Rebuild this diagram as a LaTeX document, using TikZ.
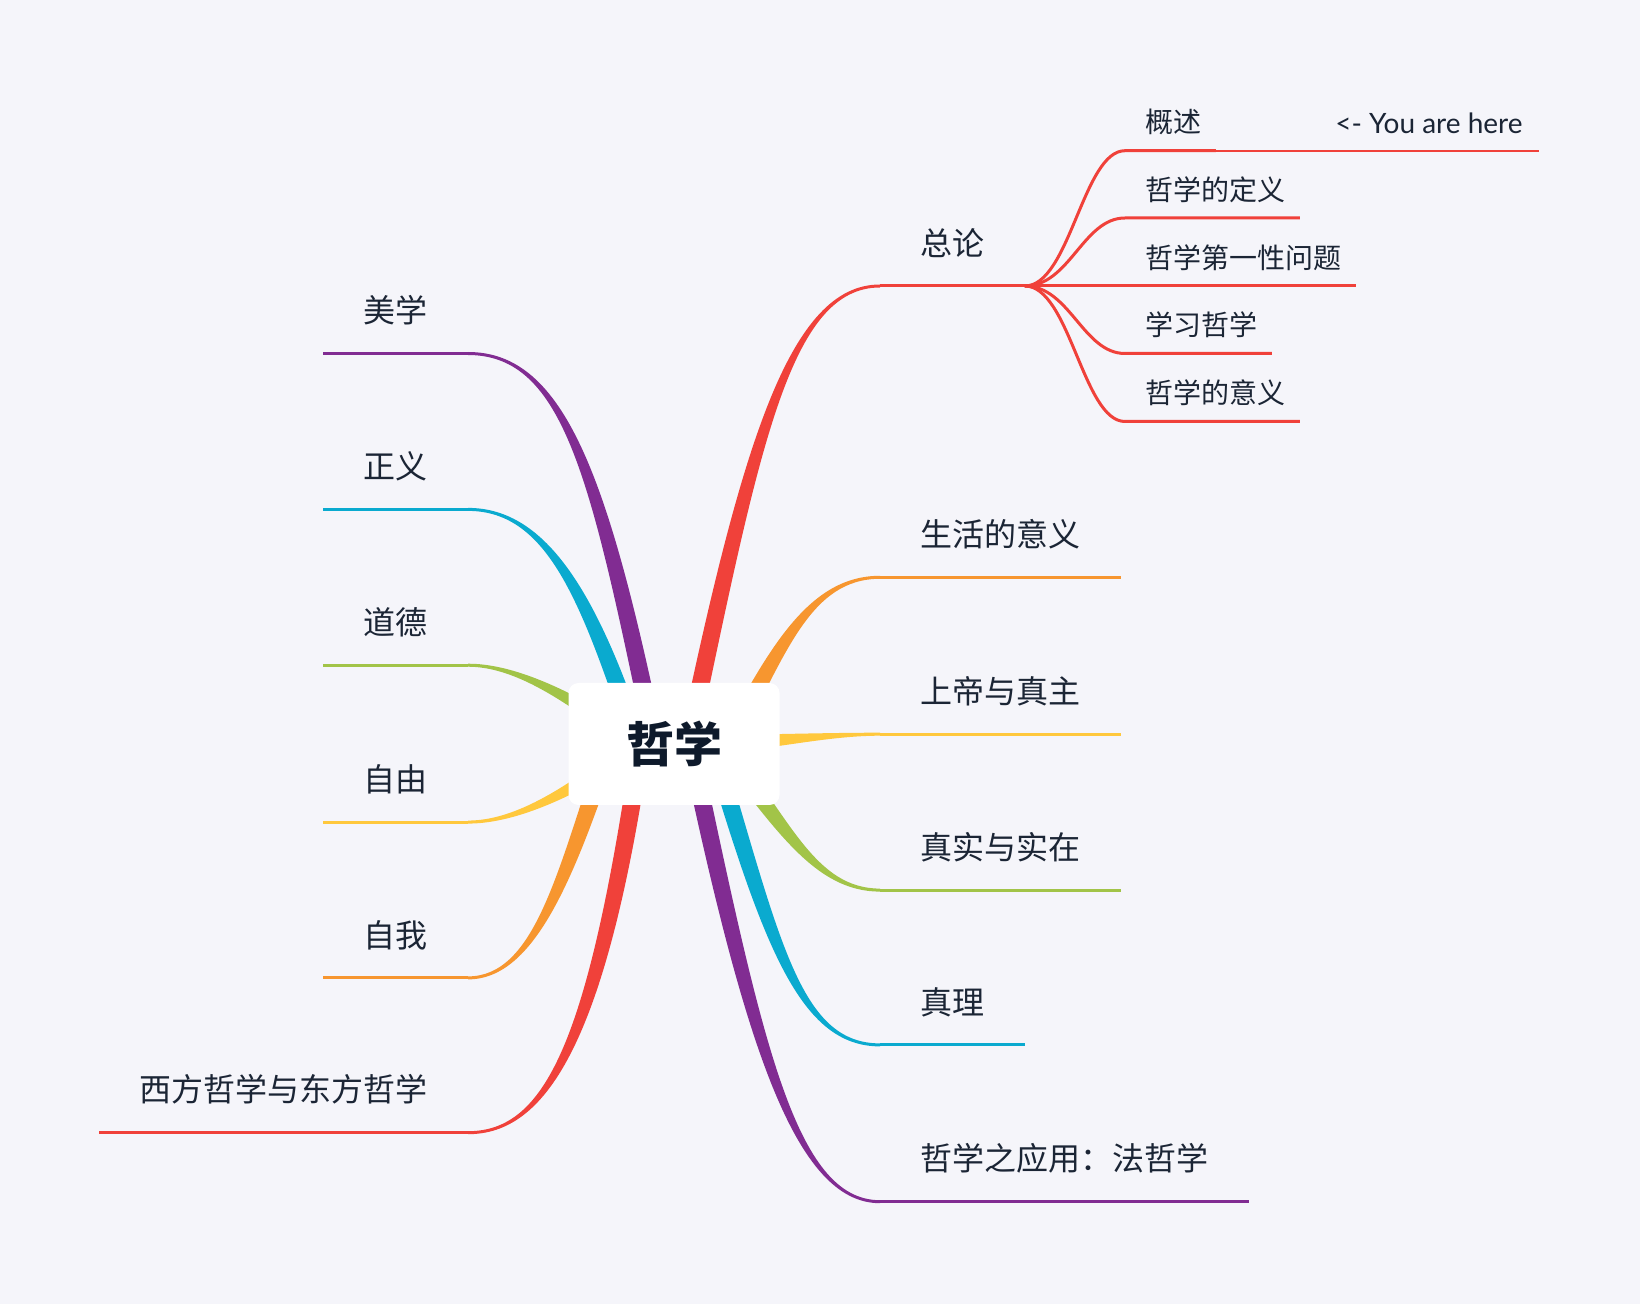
\documentclass[tikz,border=0pt]{standalone}
\usepackage{fontspec}
\setmainfont{Noto Sans CJK SC}
\newfontfamily\latinfont{Lato}
\usetikzlibrary{calc}
\definecolor{bgpaper}{RGB}{245,245,250}
\definecolor{inkblue}{RGB}{27,37,53}
\definecolor{rootink}{RGB}{14,26,43}
\definecolor{mapred}{RGB}{240,65,58}
\definecolor{maporange}{RGB}{247,150,47}
\definecolor{mapyellow}{RGB}{255,200,61}
\definecolor{mapgreen}{RGB}{162,196,72}
\definecolor{mapcyan}{RGB}{10,170,207}
\definecolor{mappurple}{RGB}{129,44,146}

% tapered branch: colour, start shift from hub, first control (from start), second control (from end), end
\newcommand{\limb}[5]{%
  \coordinate (p0) at ($(hub)+(#2)$);
  \coordinate (p1) at ($(p0)+(#3)$);
  \coordinate (p2) at ($(#5)+(#4)$);
  \fill[#1] ($(p0)!4.5pt!90:(p1)$) .. controls ($(p1)!4.5pt!-90:(p0)$) and ($(p2)!0.75pt!90:(#5)$) .. ($(#5)!0.75pt!-90:(p2)$)
    -- ($(#5)!0.75pt!90:(p2)$) .. controls ($(p2)!0.75pt!-90:(#5)$) and ($(p1)!4.5pt!90:(p0)$) .. ($(p0)!4.5pt!-90:(p1)$) -- cycle;
}

\begin{document}
\begin{tikzpicture}[
    x=0.5pt, y=-0.5pt,
    root/.style={fill=white, rounded corners=5pt, minimum width=105.5pt, minimum height=61pt, text=rootink, font=\fontsize{24}{28}\selectfont\bfseries},
    topic/.style={inner xsep=20pt, inner ysep=0pt, text=inkblue, font=\fontsize{16}{19}\selectfont},
    subtopic/.style={inner xsep=7pt, inner ysep=0pt, text=inkblue, font=\fontsize{14}{17}\selectfont},
    uline/.style={line width=1.5pt},
    tailline/.style={line width=1pt}
]

\fill[bgpaper] (0,0) rectangle (1640,1304);

\coordinate (hub) at (674,744);
% right side
\coordinate (e0) at (880,286);
\coordinate (e1) at (880,577.3);
\coordinate (e2) at (880,734.2);
\coordinate (e3) at (880,890.1);
\coordinate (e4) at (880,1044.9);
\coordinate (e5) at (880,1201.7);
% left side
\coordinate (w0) at (468,353.5);
\coordinate (w1) at (468,509.4);
\coordinate (w2) at (468,665.2);
\coordinate (w3) at (468,822.1);
\coordinate (w4) at (468,977.9);
\coordinate (w5) at (468,1132.7);

\limb{mapred}{14,0}{63,-300}{-90,0}{e0}
\limb{maporange}{54,0}{50,-94}{-70,0}{e1}
\limb{mapyellow}{26,0}{60,0}{-60,0}{e2}
\limb{mapgreen}{46,0}{63,80}{-65,0}{e3}
\limb{mapcyan}{38,0}{60,200}{-80,0}{e4}
\limb{mappurple}{16,0}{63,298}{-85,0}{e5}
\limb{mappurple}{-19,0}{-55,-264}{97,0}{w0}
\limb{mapcyan}{-36,0}{-48,-144}{80,0}{w1}
\limb{mapgreen}{-34,0}{-40,-24}{62,0}{w2}
\limb{mapyellow}{-34,0}{-40,26}{62,0}{w3}
\limb{maporange}{-64,0}{-44,130}{67,0}{w4}
\limb{mapred}{-33,0}{-44,300}{77,0}{w5}

\node[root] (root) at (hub) {哲学};

\node[topic, anchor=west] (n0) at ($(e0)+(0,-43)$) {总论};
\node[topic, anchor=west] (n1) at ($(e1)+(0,-43)$) {生活的意义};
\node[topic, anchor=west] (n2) at ($(e2)+(0,-43)$) {上帝与真主};
\node[topic, anchor=west] (n3) at ($(e3)+(0,-43)$) {真实与实在};
\node[topic, anchor=west] (n4) at ($(e4)+(0,-43)$) {真理};
\node[topic, anchor=west] (n5) at ($(e5)+(0,-43)$) {哲学之应用：法哲学};

\node[topic, anchor=east] (m0) at ($(w0)+(0,-43)$) {美学};
\node[topic, anchor=east] (m1) at ($(w1)+(0,-43)$) {正义};
\node[topic, anchor=east] (m2) at ($(w2)+(0,-43)$) {道德};
\node[topic, anchor=east] (m3) at ($(w3)+(0,-43)$) {自由};
\node[topic, anchor=east] (m4) at ($(w4)+(0,-43)$) {自我};
\node[topic, anchor=east] (m5) at ($(w5)+(0,-43)$) {西方哲学与东方哲学};

\coordinate (bp) at (n0.east |- e0);
\draw[uline, mapred] (e0) -- (bp);
\draw[uline, maporange] (e1) -- (e1 -| n1.east);
\draw[uline, mapyellow] (e2) -- (e2 -| n2.east);
\draw[uline, mapgreen] (e3) -- (e3 -| n3.east);
\draw[uline, mapcyan] (e4) -- (e4 -| n4.east);
\draw[uline, mappurple] (e5) -- (e5 -| n5.east);

\draw[uline, mappurple] (w0) -- (w0 -| m0.west);
\draw[uline, mapcyan] (w1) -- (w1 -| m1.west);
\draw[uline, mapgreen] (w2) -- (w2 -| m2.west);
\draw[uline, mapyellow] (w3) -- (w3 -| m3.west);
\draw[uline, maporange] (w4) -- (w4 -| m4.west);
\draw[uline, mapred] (w5) -- (w5 -| m5.west);

% sub topics of 总论
\coordinate (s1) at (1125,150.7);
\coordinate (s2) at (1125,218);
\coordinate (s3) at (1125,286);
\coordinate (s4) at (1125,353.5);
\coordinate (s5) at (1125,421.5);

\node[subtopic, anchor=west] (k1) at ($(s1)+(6,-28.5)$) {概述};
\node[subtopic, anchor=west] (k2) at ($(s2)+(6,-28.5)$) {哲学的定义};
\node[subtopic, anchor=west] (k3) at ($(s3)+(6,-28.5)$) {哲学第一性问题};
\node[subtopic, anchor=west] (k4) at ($(s4)+(6,-28.5)$) {学习哲学};
\node[subtopic, anchor=west] (k5) at ($(s5)+(6,-28.5)$) {哲学的意义};
\node[subtopic, anchor=west, inner xsep=0pt, font=\latinfont\fontsize{14}{17}\selectfont] (here) at (1335,123) {<- You are here};

\draw[uline, mapred] (bp) .. controls +(45,0) and +(-42,0) .. (s1) -- (s1 -| k1.east);
\draw[uline, mapred] (bp) .. controls +(45,0) and +(-42,0) .. (s2) -- (s2 -| k2.east);
\draw[uline, mapred] (bp) -- (s3) -- (s3 -| k3.east);
\draw[uline, mapred] (bp) .. controls +(45,0) and +(-42,0) .. (s4) -- (s4 -| k4.east);
\draw[uline, mapred] (bp) .. controls +(45,0) and +(-42,0) .. (s5) -- (s5 -| k5.east);
\coordinate (tail) at ($(here.east |- s1)+(16,0)$);
\draw[tailline, mapred] (s1 -| k1.east) -- (tail);

\end{tikzpicture}
\end{document}
